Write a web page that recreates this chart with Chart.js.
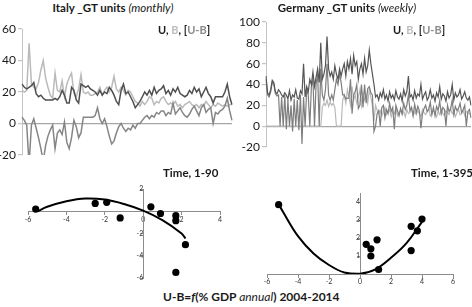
<!DOCTYPE html>
<html>
<head>
<meta charset="utf-8">
<script src="https://cdn.jsdelivr.net/npm/chart.js@4.4.1/dist/chart.umd.min.js"></script>
<style>
  body { margin: 0; background: #fff; }
  #wrap { position: relative; width: 472px; height: 307px; overflow: hidden; font-family: Lato, sans-serif; color: #1a1a1a; }
  canvas { position: absolute; }
  .t { position: absolute; white-space: nowrap; font-weight: bold; font-size: 11px; line-height: 1; }
  .t i { font-weight: normal; }
  .c { transform: translateX(-50%); }
</style>
</head>
<body>
<div id="wrap">
  <canvas id="italy" width="236" height="150" style="left:0;top:15px"></canvas>
  <canvas id="germany" width="236" height="147" style="left:236px;top:10px"></canvas>
  <canvas id="scatL" width="212" height="112" style="left:20px;top:176px"></canvas>
  <canvas id="scatR" width="210" height="106" style="left:256px;top:180px"></canvas>

  <div class="t c" style="left:113px;top:2px;font-size:11.5px">Italy _GT units <i>(monthly)</i></div>
  <div class="t c" style="left:347px;top:2px;font-size:11.5px">Germany _GT units <i>(weekly)</i></div>
  <div class="t" style="left:158px;top:24px">U, <span style="color:#bdbdbd">B</span>, [<span style="color:#8a8a8a">U-B</span>]</div>
  <div class="t" style="left:393px;top:24px">U, <span style="color:#bdbdbd">B</span>, [<span style="color:#8a8a8a">U-B</span>]</div>
  <div class="t" style="left:163px;top:167px;font-size:11.5px">Time, 1-90</div>
  <div class="t" style="left:411px;top:167px;font-size:11.5px">Time, 1-395</div>
  <div class="t" style="left:163px;top:291px;font-size:12px">U-B=<i style="font-weight:bold">f</i>(% GDP <i>annual</i>) 2004-2014</div>
</div>
<script>
// Italy, monthly (t = 1..90)
const italyU = [25, 23, 22, 23, 24, 26, 19, 17, 18, 16,
  15, 15, 15, 15, 16, 15, 17, 21, 18, 13,
  13, 23, 21, 15, 13, 25, 24, 23, 24, 22,
  21, 20, 18, 21, 18, 20, 19, 23, 21, 18,
  14, 12, 21, 25, 19, 20, 17, 14, 10, 12,
  14, 17, 20, 18, 21, 18, 23, 19, 21, 22,
  24, 19, 21, 18, 22, 20, 23, 19, 18, 17,
  18, 21, 19, 23, 20, 22, 17, 20, 23, 19,
  17, 13, 17, 17, 17, 17, 20, 25, 17, 12];
const italyB = [21, 20, 21, 51, 25, 23, 22, 26, 34, 40,
  29, 23, 18, 16, 32, 21, 20, 27, 17, 25,
  29, 32, 19, 17, 22, 31, 20, 19, 20, 18,
  18, 19, 20, 23, 18, 21, 23, 20, 23, 30,
  22, 20, 23, 21, 18, 21, 20, 17, 14, 13,
  11, 14, 12, 14, 17, 16, 12, 14, 13, 16,
  17, 14, 12, 13, 12, 14, 11, 12, 10, 12,
  13, 14, 12, 11, 12, 10, 12, 11, 14, 12,
  10, 12, 11, 13, 12, 11, 12, 11, 12, 12];
const italyUB = [4, 2, -1, -26, -1, 3, -3, -9, -16, -24,
  -14, -8, -4, -1, -16, -6, -4, -7, 1, -12,
  -16, -9, 2, -2, -9, -6, 4, 4, 4, 4,
  4, 5, 10, 3, 0, 3, -2, -8, -13, -11,
  -6, -2, 0, -3, -5, -3, -4, -1, -3, 0,
  0, 2, 4, 5, 3, 5, 4, 7, 6, 8,
  8, 5, 7, 6, 13, 6, 8, 10, 7, 5,
  4, 6, 9, 11, 8, 5, 10, 12, 7, 9,
  10, 0, 7, 6, 8, 9, 11, 16, 8, 2];
const italyMonths = italyU.map((_, i) => i + 1);

// Germany, weekly (t = 1..395, read every third week)
const germanyU = [48, 32, 30, 35, 44, 42, 33, 31, 35, 33,
  30, 28, 32, 30, 26, 34, 25, 30, 28, 35,
  27, 26, 34, 31, 60, 28, 38, 33, 45, 40,
  52, 38, 47, 55, 42, 80, 45, 50, 58, 86,
  55, 48, 52, 45, 58, 50, 45, 55, 48, 55,
  60, 48, 62, 55, 65, 50, 68, 58, 62, 45,
  55, 60, 50, 65, 52, 58, 73, 60, 50, 40,
  28, 30, 25, 32, 28, 35, 26, 30, 24, 33,
  27, 30, 25, 34, 28, 26, 31, 24, 35, 29,
  33, 48, 28, 30, 25, 34, 27, 31, 29, 40,
  26, 30, 33, 25, 28, 35, 27, 30, 24, 32,
  28, 38, 26, 31, 29, 24, 33, 27, 30, 40,
  25, 32, 28, 30, 35, 26, 29, 33, 27, 25,
  28, 20];
const germanyB = [0, 0, 0, 0, 0, 0, 0, 0, 0, 0,
  0, 0, 0, 0, 0, 0, 0, 0, 0, 0,
  0, 0, 0, 0, 0, 0, 0, 0, 0, 0,
  0, 0, 0, 0, 0, 0, 18, 22, 20, 25,
  19, 23, 20, 22, 18, 0, 0, 0, 0, 25,
  30, 22, 35, 28, 20, 38, 25, 30, 22, 28,
  35, 20, 32, 25, 30, 22, 35, 28, 20, 5,
  20, 15, 12, 15, 10, 14, 18, 11, 13, 16,
  9, 14, 12, 17, 10, 13, 15, 11, 14, 9,
  16, 12, 13, 18, 10, 14, 11, 15, 12, 9,
  16, 13, 11, 14, 17, 10, 12, 15, 13, 9,
  14, 11, 16, 12, 10, 15, 13, 11, 17, 12,
  14, 9, 13, 16, 11, 12, 15, 10, 14, 13,
  12, 11];
const germanyUB = [45, 30, 28, 33, 42, 40, 31, 29, 30, 0,
  28, 0, 30, -3, 25, 0, 20, -5, 26, 0,
  25, -4, 30, -17, 28, 0, 35, 30, 0, 38,
  45, 0, 40, 50, 0, 55, 30, 25, 35, 60,
  30, 25, 30, 25, 35, 45, 40, 50, 42, 30,
  30, 26, 27, 27, 45, 12, 30, 33, 40, 17,
  20, 40, 18, 40, 22, 36, 38, 32, 30, -5,
  0, 12, 15, 0, 18, 20, 8, 16, 12, 22,
  14, 18, -3, 20, 15, 10, 17, 12, 22, 16,
  20, 30, 15, 18, 10, 21, 13, 19, 15, -2,
  12, 17, 20, 14, 16, 23, 11, 18, 10, 19,
  15, 24, 12, 18, 16, 0, 20, 14, 17, 25,
  11, 19, 15, 17, 22, 13, 16, 20, 0, 14,
  16, 8];
const germanyWeeks = germanyU.map((_, i) => i * 3 + 1);

// U-B vs % GDP annual, 2004-2014
const italyGdp = [-5.6, -2.5, -1.9, -1.2, 0.4, 0.9, 1.7, 1.7, 2.2, 1.7];
const italyGap = [0.2, 0.7, 0.8, -0.6, 0.4, -0.2, -0.4, -0.85, -3.0, -5.5];
const italyFitX = [-5.5, -5, -4, -3, -2, -1, 0, 1, 2, 2.2];
const italyFitY = [0.0, 0.4, 0.9, 1.15, 1.05, 0.65, 0.05, -0.8, -2.0, -2.45];

const germanyGdp = [-5.25, 0.4, 0.7, 0.7, 1.1, 1.2, 3.3, 3.3, 3.7, 4.0];
const germanyGap = [3.85, 1.65, 1.4, 1.0, 1.9, 0.25, 2.65, 1.3, 2.4, 3.05];
const germanyFitX = [-5.2, -5, -4, -3, -2, -1, 0, 1, 2, 3, 4];
const germanyFitY = [3.8, 3.5, 2.1, 1.14, 0.5, 0.08, 0.01, 0.26, 0.9, 1.71, 2.9];

const DARK = '#4f4f4f', MID = '#858585', LIGHT = '#bababa';
const AXIS = '#c4c4c4';

Chart.defaults.font.family = "Lato, sans-serif";

function series(data, color, w) {
  return { data, borderColor: color, borderWidth: w, pointRadius: 0, tension: 0, fill: false };
}

function timeOptions(min, max, axisW, padding) {
  return {
    responsive: false, animation: false,
    layout: { padding },
    plugins: { legend: { display: false }, tooltip: { enabled: false } },
    scales: {
      x: { display: false },
      y: {
        min, max,
        afterFit(s) { s.width = axisW; },
        ticks: { stepSize: 20, color: '#1a1a1a', font: { size: 12 }, padding: 2 },
        border: { color: AXIS },
        grid: { color: c => c.tick.value === 0 ? '#a6a6a6' : 'transparent', tickColor: AXIS, tickLength: 4, lineWidth: 1.2 },
      },
    },
  };
}

new Chart(document.getElementById('italy'), {
  type: 'line',
  data: {
    labels: italyMonths,
    datasets: [
      series(italyUB, MID, 1.5),
      series(italyU, DARK, 1.5),
      series(italyB, LIGHT, 1.5),
    ],
  },
  options: timeOptions(-20, 60, 22, { top: 14, right: 4, bottom: 10, left: 0 }),
});

new Chart(document.getElementById('germany'), {
  type: 'line',
  data: {
    labels: germanyWeeks,
    datasets: [
      series(germanyU, '#555555', 1.2),
      series(germanyUB, '#7e7e7e', 1.2),
      series(germanyB, LIGHT, 1.2),
    ],
  },
  options: timeOptions(-20, 100, 30, { top: 12, right: 1, bottom: 10, left: 0 }),
});

function pairs(xs, ys) { return xs.map((x, i) => ({ x, y: ys[i] })); }

function scatterOptions(xr, yr, padding, yInclude) {
  const tickFont = { size: 7 };
  return {
    responsive: false, animation: false,
    layout: { padding },
    plugins: { legend: { display: false }, tooltip: { enabled: false } },
    scales: {
      x: {
        type: 'linear', min: xr[0], max: xr[1], position: { y: 0 },
        ticks: { stepSize: 2, color: '#333', font: tickFont, padding: 1 },
        border: { color: '#8c8c8c' },
        grid: { drawOnChartArea: false, color: '#8c8c8c', tickLength: 3 },
      },
      y: {
        type: 'linear', min: yr[0], max: yr[1], position: { x: 0 },
        ticks: { stepSize: 1, color: '#333', font: tickFont, padding: 1, includeBounds: yInclude,
                 callback: v => v === 0 ? '' : v },
        border: { color: '#8c8c8c' },
        grid: { drawOnChartArea: false, color: '#8c8c8c', tickLength: 3 },
      },
    },
  };
}

function scatterData(gx, gy, fx, fy) {
  return {
    datasets: [
      { data: pairs(gx, gy), showLine: false, pointRadius: 3.6, pointBackgroundColor: '#000', pointBorderWidth: 0 },
      { data: pairs(fx, fy), showLine: true, pointRadius: 0, borderColor: '#000', borderWidth: 2, tension: 0.4 },
    ],
  };
}

new Chart(document.getElementById('scatL'), {
  type: 'scatter',
  data: scatterData(italyGdp, italyGap, italyFitX, italyFitY),
  options: scatterOptions([-6, 4], [-6, 2], { top: 13, right: 12, bottom: 10, left: 8 }, true),
});

new Chart(document.getElementById('scatR'), {
  type: 'scatter',
  data: scatterData(germanyGdp, germanyGap, germanyFitX, germanyFitY),
  options: scatterOptions([-6, 6], [0, 4.5], { top: 13, right: 13, bottom: 12, left: 11 }, false),
});
</script>
</body>
</html>
